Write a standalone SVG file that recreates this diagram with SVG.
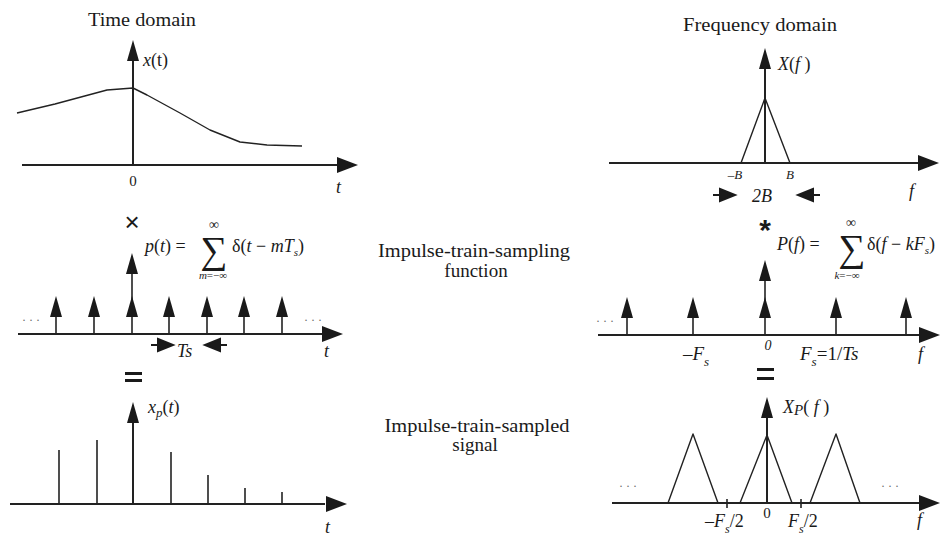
<svg xmlns="http://www.w3.org/2000/svg" width="941" height="536" viewBox="0 0 941 536" font-family="Liberation Serif, Tinos, DejaVu Serif, Noto Serif, serif">
<style>
.ax{stroke:#222;stroke-width:2;fill:none}
.st{stroke:#222;stroke-width:1.6;fill:none}
.cv{stroke:#222;stroke-width:1.4;fill:none;stroke-linejoin:round}
.hd{fill:#1a1a1a}
text{font-family:"Liberation Serif","Tinos","DejaVu Serif","Noto Serif",serif;fill:#1a1a1a}
.i{font-style:italic}
.t{font-size:19px}
.m{font-size:18px}
.dots{font-size:12px;fill:#666}
.sans{font-family:"Liberation Sans","DejaVu Sans",sans-serif}
</style>
<defs>
<path id="up" d="M0,0 L-6,21 L6,21 Z"/>
<path id="rt" d="M0,0 L-21,-8 L-21,8 Z"/>
<path id="sr" d="M-22,0 L-15,0 M-15,-6 L0,0 L-15,6 Z"/>
</defs>

<g id="labels-middle">
<text class="t" x="474" y="257" text-anchor="middle" textLength="192" lengthAdjust="spacingAndGlyphs">Impulse-train-sampling</text>
<text class="t" x="476" y="277" text-anchor="middle">function</text>
<text class="t" x="477" y="432" text-anchor="middle" textLength="185" lengthAdjust="spacingAndGlyphs">Impulse-train-sampled</text>
<text class="t" x="475" y="451" text-anchor="middle">signal</text>
</g>

<g id="time-signal">
<text class="t" x="142" y="26" text-anchor="middle" textLength="108" lengthAdjust="spacingAndGlyphs">Time domain</text>
<line class="ax" x1="22" y1="165" x2="340" y2="165"/>
<use href="#rt" x="358" y="165" class="hd"/>
<line class="ax" x1="133" y1="165" x2="133" y2="58"/>
<use href="#up" x="133" y="40" class="hd"/>
<polyline class="cv" points="17,113 55,104 107,90 133,88 147,95 180,113 210,130 240,142 267,145 302,146"/>
<text class="m" x="143" y="66"><tspan class="i">x</tspan>(t)</text>
<text x="133" y="186" font-size="15" text-anchor="middle">0</text>
<text class="m i" x="336" y="193">t</text>
</g>

<g id="freq-signal">
<text class="t" x="760" y="31" text-anchor="middle" textLength="154" lengthAdjust="spacingAndGlyphs">Frequency domain</text>
<line class="ax" x1="609" y1="163" x2="920" y2="163"/>
<use href="#rt" x="939" y="163" class="hd"/>
<line class="ax" x1="765" y1="163" x2="765" y2="66"/>
<use href="#up" x="765" y="48" class="hd"/>
<polyline class="cv" points="741,163 765,98 790,163"/>
<text class="m" x="778" y="70"><tspan class="i">X</tspan>(<tspan class="i">f</tspan> )</text>
<text class="i" x="735" y="179" font-size="13" text-anchor="middle">–B</text>
<text class="i" x="790" y="179" font-size="13" text-anchor="middle">B</text>
<text class="m i" x="909" y="197">f</text>
<text class="i" x="752" y="202" font-size="18">2B</text>
</g>

<g id="time-sampling">
<text class="sans" x="132" y="231" font-size="26" text-anchor="middle">×</text>
<text class="m" x="145" y="252"><tspan class="i">p</tspan>(<tspan class="i">t</tspan>) =</text>
<text x="214" y="263" font-size="38" text-anchor="middle">∑</text>
<text x="214" y="229" font-size="14" text-anchor="middle">∞</text>
<text x="213" y="279" font-size="11" text-anchor="middle"><tspan class="i">m</tspan>=−∞</text>
<text class="m" x="232" y="252">δ(<tspan class="i">t</tspan> − <tspan class="i">mT</tspan><tspan font-size="11" dy="4" class="i">s</tspan><tspan dy="-4">)</tspan></text>
<line class="ax" x1="18" y1="334" x2="323" y2="334"/>
<use href="#rt" x="343" y="334" class="hd"/>
<g class="st">
<line x1="56" y1="334" x2="56" y2="312"/>
<line x1="94" y1="334" x2="94" y2="312"/>
<line x1="132" y1="334" x2="132" y2="270"/>
<line x1="169" y1="334" x2="169" y2="312"/>
<line x1="207" y1="334" x2="207" y2="312"/>
<line x1="244" y1="334" x2="244" y2="312"/>
<line x1="282" y1="334" x2="282" y2="312"/>
</g>
<g class="hd">
<use href="#up" x="56" y="296"/>
<use href="#up" x="94" y="296"/>
<use href="#up" x="132" y="296"/>
<use href="#up" x="132" y="253"/>
<use href="#up" x="169" y="296"/>
<use href="#up" x="207" y="296"/>
<use href="#up" x="244" y="296"/>
<use href="#up" x="282" y="296"/>
</g>
<text class="dots" x="22" y="324">· · ·</text>
<text class="dots" x="304" y="324">· · ·</text>
<text class="i" x="177" y="357" font-size="18">Ts</text>
<text class="m i" x="324" y="357">t</text>
</g>

<g id="freq-sampling">
<text class="sans" x="765" y="240" font-size="30" text-anchor="middle" font-weight="bold">*</text>
<text class="m" x="777" y="250"><tspan class="i">P</tspan>(<tspan class="i">f</tspan>) =</text>
<text x="852" y="261" font-size="38" text-anchor="middle">∑</text>
<text x="851" y="227" font-size="14" text-anchor="middle">∞</text>
<text x="847" y="279" font-size="11" text-anchor="middle"><tspan class="i">k</tspan>=−∞</text>
<text class="m" x="867" y="250">δ(<tspan class="i">f</tspan> − <tspan class="i">kF</tspan><tspan font-size="11" dy="4" class="i">s</tspan><tspan dy="-4">)</tspan></text>
<line class="ax" x1="598" y1="335" x2="920" y2="335"/>
<use href="#rt" x="940" y="335" class="hd"/>
<g class="st">
<line x1="627" y1="335" x2="627" y2="313"/>
<line x1="693" y1="335" x2="693" y2="313"/>
<line x1="765" y1="335" x2="765" y2="276"/>
<line x1="836" y1="335" x2="836" y2="313"/>
<line x1="906" y1="335" x2="906" y2="313"/>
</g>
<g class="hd">
<use href="#up" x="627" y="297"/>
<use href="#up" x="693" y="297"/>
<use href="#up" x="765" y="297"/>
<use href="#up" x="765" y="260"/>
<use href="#up" x="836" y="297"/>
<use href="#up" x="906" y="297"/>
</g>
<text class="dots" x="596" y="325">· · ·</text>
<text class="i" x="683" y="360" font-size="19">–F<tspan font-size="13" dy="6">s</tspan></text>
<text class="i" x="768" y="350" font-size="14" text-anchor="middle">0</text>
<text class="i" x="800" y="360" font-size="19">F<tspan font-size="13" dy="6">s</tspan><tspan dy="-6" font-style="normal">=1/</tspan>Ts</text>
<text class="m i" x="918" y="360">f</text>
</g>

<g id="time-sampled">
<rect x="125" y="372" width="17" height="3" class="hd"/>
<rect x="125" y="379" width="17" height="3" class="hd"/>
<line class="ax" x1="10" y1="504" x2="325" y2="504"/>
<use href="#rt" x="347" y="504" class="hd"/>
<line class="ax" x1="133" y1="504" x2="133" y2="420"/>
<use href="#up" x="133" y="402" class="hd"/>
<g class="st">
<line x1="59" y1="504" x2="59" y2="450"/>
<line x1="97" y1="504" x2="97" y2="440"/>
<line x1="171" y1="504" x2="171" y2="452"/>
<line x1="208" y1="504" x2="208" y2="475"/>
<line x1="245" y1="504" x2="245" y2="488"/>
<line x1="282" y1="504" x2="282" y2="492"/>
</g>
<text class="m" x="148" y="413"><tspan class="i">x</tspan><tspan class="i" font-size="13" dy="4">p</tspan><tspan dy="-4">(</tspan><tspan class="i">t</tspan>)</text>
<text class="m i" x="325" y="533">t</text>
</g>

<g id="freq-sampled">
<rect x="757" y="368" width="17" height="3" class="hd"/>
<rect x="757" y="377" width="17" height="3" class="hd"/>
<line class="ax" x1="612" y1="503" x2="920" y2="503"/>
<use href="#rt" x="940" y="503" class="hd"/>
<line class="ax" x1="767" y1="503" x2="767" y2="414"/>
<use href="#up" x="767" y="397" class="hd"/>
<polyline class="cv" points="668,503 693,434 718,503"/>
<polyline class="cv" points="740,503 767,435 792,503"/>
<polyline class="cv" points="810,503 836,434 860,503"/>
<line class="st" x1="727" y1="499" x2="727" y2="508"/>
<line class="st" x1="801" y1="499" x2="801" y2="508"/>
<text class="dots" x="619" y="490">· · ·</text>
<text class="dots" x="881" y="490">· · ·</text>
<text class="m" x="783" y="413"><tspan class="i">X</tspan><tspan class="i" font-size="15" dy="2">P</tspan><tspan dy="-2">( </tspan><tspan class="i">f</tspan> )</text>
<text class="i" x="705" y="527" font-size="18">–F<tspan font-size="12" dy="6">s</tspan><tspan dy="-6" font-style="normal">/2</tspan></text>
<text x="767" y="518" font-size="15" text-anchor="middle">0</text>
<text class="i" x="788" y="527" font-size="18">F<tspan font-size="12" dy="6">s</tspan><tspan dy="-6" font-style="normal">/2</tspan></text>
<text class="m i" x="917" y="526">f</text>
</g>

<g id="connectors">
<use href="#sr" x="735" y="195" class="hd" stroke="#1a1a1a" stroke-width="2"/>
<use href="#sr" x="-798" y="195" transform="scale(-1,1)" class="hd" stroke="#1a1a1a" stroke-width="2"/>
<use href="#sr" x="173" y="345" class="hd" stroke="#1a1a1a" stroke-width="2"/>
<use href="#sr" x="-205" y="345" transform="scale(-1,1)" class="hd" stroke="#1a1a1a" stroke-width="2"/>
</g>
</svg>
